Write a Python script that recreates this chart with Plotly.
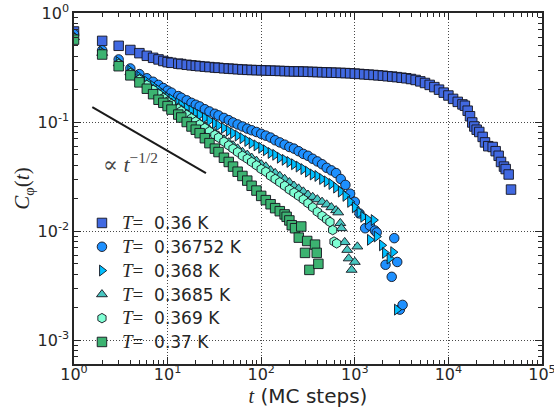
import plotly.graph_objects as go

# ---------------- data ----------------
t_036 = [1,2,3,4,5,6,7,8,9,10,11,13,14,16,18,20,22,25,28,32,35,40,45,50,56,63,71,79,89,100,
         112,126,141,158,178,200,224,251,282,316,355,398,447,501,562,631,708,794,891,1000,
         1122,1259,1413,1585,1778,1995,2239,2512,2818,3162,3548,3981,4467,5012,5623,6310,7079,7943,8913,10000,
         11220,12589,14125,15000,16070,17020,17990,18920,20050,21380,23230,24600,26670,29720,31990,34430,
         36480,39260,40930,44060,46670]
c_036 = [0.677,0.555,0.50,0.458,0.428,0.405,0.388,0.375,0.363,0.354,
         0.349,0.343,0.340,0.335,0.331,0.328,0.325,0.322,0.319,0.316,
         0.314,0.311,0.309,0.307,0.305,0.303,0.301,0.300,0.299,0.298,
         0.297,0.296,0.295,0.294,0.293,0.292,0.291,0.291,0.290,0.289,
         0.288,0.287,0.286,0.285,0.284,0.283,0.282,0.281,0.280,0.278,
         0.276,0.274,0.272,0.270,0.268,0.266,0.263,0.261,0.258,0.255,
         0.252,0.248,0.243,0.236,0.228,0.219,0.209,0.198,0.186,0.175,
         0.163,0.153,0.145,0.141,0.127,0.113,0.099,0.091,0.085,0.081,
         0.073,0.065,0.060,0.059,0.054,0.049,0.043,0.039,0.037,0.033,0.024]

t_036752 = [1,2,3,4,5,6,7,8,9,10,11,13,14,16,18,20,22,25,28,32,35,40,45,50,56,63,71,79,89,100,
            112,126,141,158,178,200,224,251,282,316,355,398,447,501,562,631,708,794,891,
            1000,1122,1290,1450,1640,1714,2130,2480,2640,2840,3030,3240]
c_036752 = [0.64,0.455,0.375,0.31,0.275,0.252,0.234,0.219,0.205,0.194,
            0.186,0.173,0.167,0.158,0.150,0.144,0.139,0.131,0.125,0.119,
            0.115,0.109,0.104,0.099,0.095,0.091,0.087,0.084,0.081,0.078,
            0.075,0.072,0.068,0.065,0.062,0.059,0.057,0.054,0.051,0.049,
            0.046,0.0435,0.041,0.038,0.036,0.034,0.030,0.0265,0.022,
            0.0185,0.0145,0.0106,0.0112,0.0101,0.0097,0.0049,0.0038,0.0086,0.0052,0.0019,0.0021]

t_0368 = [1,2,3,4,5,6,7,8,9,10,11,13,14,16,18,20,22,25,28,32,35,40,45,50,56,63,71,79,89,100,
          112,126,141,158,178,200,224,251,282,316,355,398,447,501,562,631,708,794,891,1000,
          1122,1230,1380,1450,1590,1714,1950,2100,2350,2570,2820]
c_0368 = [0.61,0.44,0.355,0.295,0.26,0.235,0.214,0.197,0.181,0.168,
          0.162,0.149,0.143,0.134,0.127,0.121,0.116,0.109,0.103,0.097,
          0.093,0.088,0.083,0.079,0.075,0.071,0.067,0.064,0.061,0.058,
          0.055,0.052,0.050,0.047,0.045,0.043,0.041,0.039,0.037,0.035,
          0.033,0.032,0.030,0.0285,0.027,0.025,0.023,0.021,0.0185,0.0165,
          0.0148,0.0135,0.0128,0.0083,0.0126,0.0089,0.0074,0.0063,0.0056,0.0064,0.0019]

t_03685 = [1,2,3,4,5,6,7,8,9,10,11,13,14,16,18,20,22,25,28,32,35,40,45,50,56,63,71,79,89,100,
           112,126,141,158,178,200,224,251,282,316,355,398,447,501,562,631,
           665,700,720,780,830,860,925,1000,1065]
c_03685 = [0.60,0.43,0.345,0.285,0.25,0.222,0.201,0.184,0.170,0.158,
           0.150,0.136,0.130,0.119,0.111,0.104,0.098,0.091,0.085,0.079,
           0.075,0.069,0.065,0.061,0.057,0.053,0.050,0.047,0.044,0.041,
           0.039,0.036,0.034,0.032,0.030,0.028,0.026,0.0245,0.023,0.0215,
           0.0205,0.0195,0.0185,0.0175,0.0165,0.0155,
           0.0148,0.0118,0.0106,0.0079,0.0067,0.0056,0.0044,0.0052,0.0072]

t_0369 = [1,2,3,4,5,6,7,8,9,10,11,13,14,16,18,20,22,25,28,32,35,40,45,50,56,63,71,79,89,100,
          112,126,141,158,178,200,224,251,282,316,355,398,447,501,
          543,580,600,640]
c_0369 = [0.59,0.425,0.34,0.28,0.245,0.218,0.197,0.180,0.166,0.154,
          0.146,0.132,0.126,0.116,0.108,0.101,0.095,0.088,0.082,0.076,
          0.072,0.066,0.061,0.057,0.053,0.049,0.046,0.043,0.040,0.037,
          0.035,0.032,0.030,0.028,0.026,0.024,0.0225,0.021,0.0195,0.018,
          0.0165,0.015,0.0138,0.0128,
          0.0121,0.0102,0.0080,0.0077]

t_037 = [1,2,3,4,5,6,7,8,9,10,11,13,14,16,18,20,22,25,28,32,35,40,45,50,56,63,71,79,89,100,
         112,126,141,158,178,
         187,200,212,230,252,268,294,310,327,376,392,408]
c_037 = [0.57,0.416,0.325,0.268,0.231,0.202,0.180,0.160,0.150,0.140,
         0.130,0.117,0.110,0.100,0.091,0.085,0.079,0.071,0.064,0.057,
         0.053,0.047,0.043,0.039,0.035,0.032,0.029,0.026,0.0235,0.021,
         0.0192,0.0176,0.0162,0.0152,0.0142,
         0.0135,0.0125,0.0113,0.0106,0.0087,0.0110,0.0063,0.0081,0.0044,0.0075,0.0063,0.0050]

labels = ["0.36 K", "0.36752 K", "0.368 K", "0.3685 K", "0.369 K", "0.37 K"]
colors = ["#4169E1", "#1E90FF", "#00BFFF", "#48C6C0", "#7FFFD4", "#3CB371"]
symbols = ["square", "circle", "triangle-right", "triangle-up", "hexagon", "square"]

guide_t = [1.57, 25.7]
guide_c = [0.137, 0.034]

x_tickvals = [1, 10, 100, 1000, 10000, 100000]
x_ticktext = ["10<sup>0</sup>", "10<sup>1</sup>", "10<sup>2</sup>", "10<sup>3</sup>", "10<sup>4</sup>", "10<sup>5</sup>"]
y_tickvals = [0.001, 0.01, 0.1, 1]
y_ticktext = ["10<sup>-3</sup>", "10<sup>-2</sup>", "10<sup>-1</sup>", "10<sup>0</sup>"]

# ---------------- figure ----------------
series = [(t_036, c_036), (t_036752, c_036752), (t_0368, c_0368),
          (t_03685, c_03685), (t_0369, c_0369), (t_037, c_037)]

fig = go.Figure()
SERIF = "'Liberation Serif', 'DejaVu Serif', serif"
for i, ((tt, cc), lab, col, sym) in enumerate(zip(series, labels, colors, symbols)):
    fig.add_trace(go.Scatter(
        x=tt, y=cc, mode="markers",
        name=(f"<span style=\"font-family:{SERIF};font-size:19px\"><i>T</i>=</span>"
              f"<span style=\"font-size:17px\">&nbsp; {lab}</span>"),
        marker=dict(symbol=sym, size=9.5, color=col,
                    line=dict(color="rgba(20,20,30,0.9)", width=1)),
    ))

fig.add_trace(go.Scatter(x=guide_t, y=guide_c, mode="lines",
                         line=dict(color="#1a1a1a", width=2), showlegend=False))

minor_x = [m * 10 ** e for e in range(0, 5) for m in range(2, 10)]
minor_y = [m * 10 ** e for e in range(-4, 0) for m in range(2, 10)]

axis_common = dict(
    type="log", showline=True, linecolor="#262626", linewidth=1.5, mirror="ticks",
    ticks="inside", ticklen=7, tickwidth=1, tickcolor="#262626", automargin=False,
    showgrid=True, gridcolor="rgba(40,40,40,0.85)", gridwidth=1, griddash="1px,2px",
    zeroline=False, tickfont=dict(family="DejaVu Sans", size=16, color="#262626"),
    ticklabeloverflow="allow",
)

fig.update_xaxes(range=[0, 5], tickmode="array", tickvals=x_tickvals, ticktext=x_ticktext,
                 minor=dict(tickmode="array", tickvals=minor_x, ticks="inside", ticklen=4,
                            tickcolor="#262626", showgrid=False),
                 title=dict(text=f"<span style=\"font-family:{SERIF}\"><i>t</i></span> (MC steps)",
                            font=dict(family="DejaVu Sans", size=20, color="#262626"), standoff=5),
                 ticklabelstandoff=-5,
                 **axis_common)
fig.update_yaxes(range=[-3.22, 0], tickmode="array", tickvals=y_tickvals, ticktext=y_ticktext,
                 minor=dict(tickmode="array", tickvals=minor_y, ticks="inside", ticklen=4,
                            tickcolor="#262626", showgrid=False),
                 title=dict(text=f"<span style=\"font-family:{SERIF}\"><i>C</i><sub>φ</sub>(<i>t</i>)</span>",
                            font=dict(family="DejaVu Sans", size=21, color="#262626"), standoff=2),
                 **axis_common)

fig.add_annotation(xref="paper", yref="paper", x=0.121, y=0.573, xanchor="center", yanchor="middle",
                   text="∝ <i>t</i><sup>−1/2</sup>", showarrow=False,
                   font=dict(family=SERIF, size=22, color="#444444"))

fig.update_layout(
    width=554, height=414,
    margin=dict(l=74, r=12, t=13, b=50),
    paper_bgcolor="white", plot_bgcolor="white",
    legend=dict(x=0.017, y=0.45, xanchor="left", yanchor="top",
                bgcolor="rgba(0,0,0,0)", borderwidth=0,
                font=dict(family="DejaVu Sans", size=16, color="#262626"),
                itemwidth=30),
    font=dict(family="DejaVu Sans", color="#262626"),
)

fig.write_html("out.html")
